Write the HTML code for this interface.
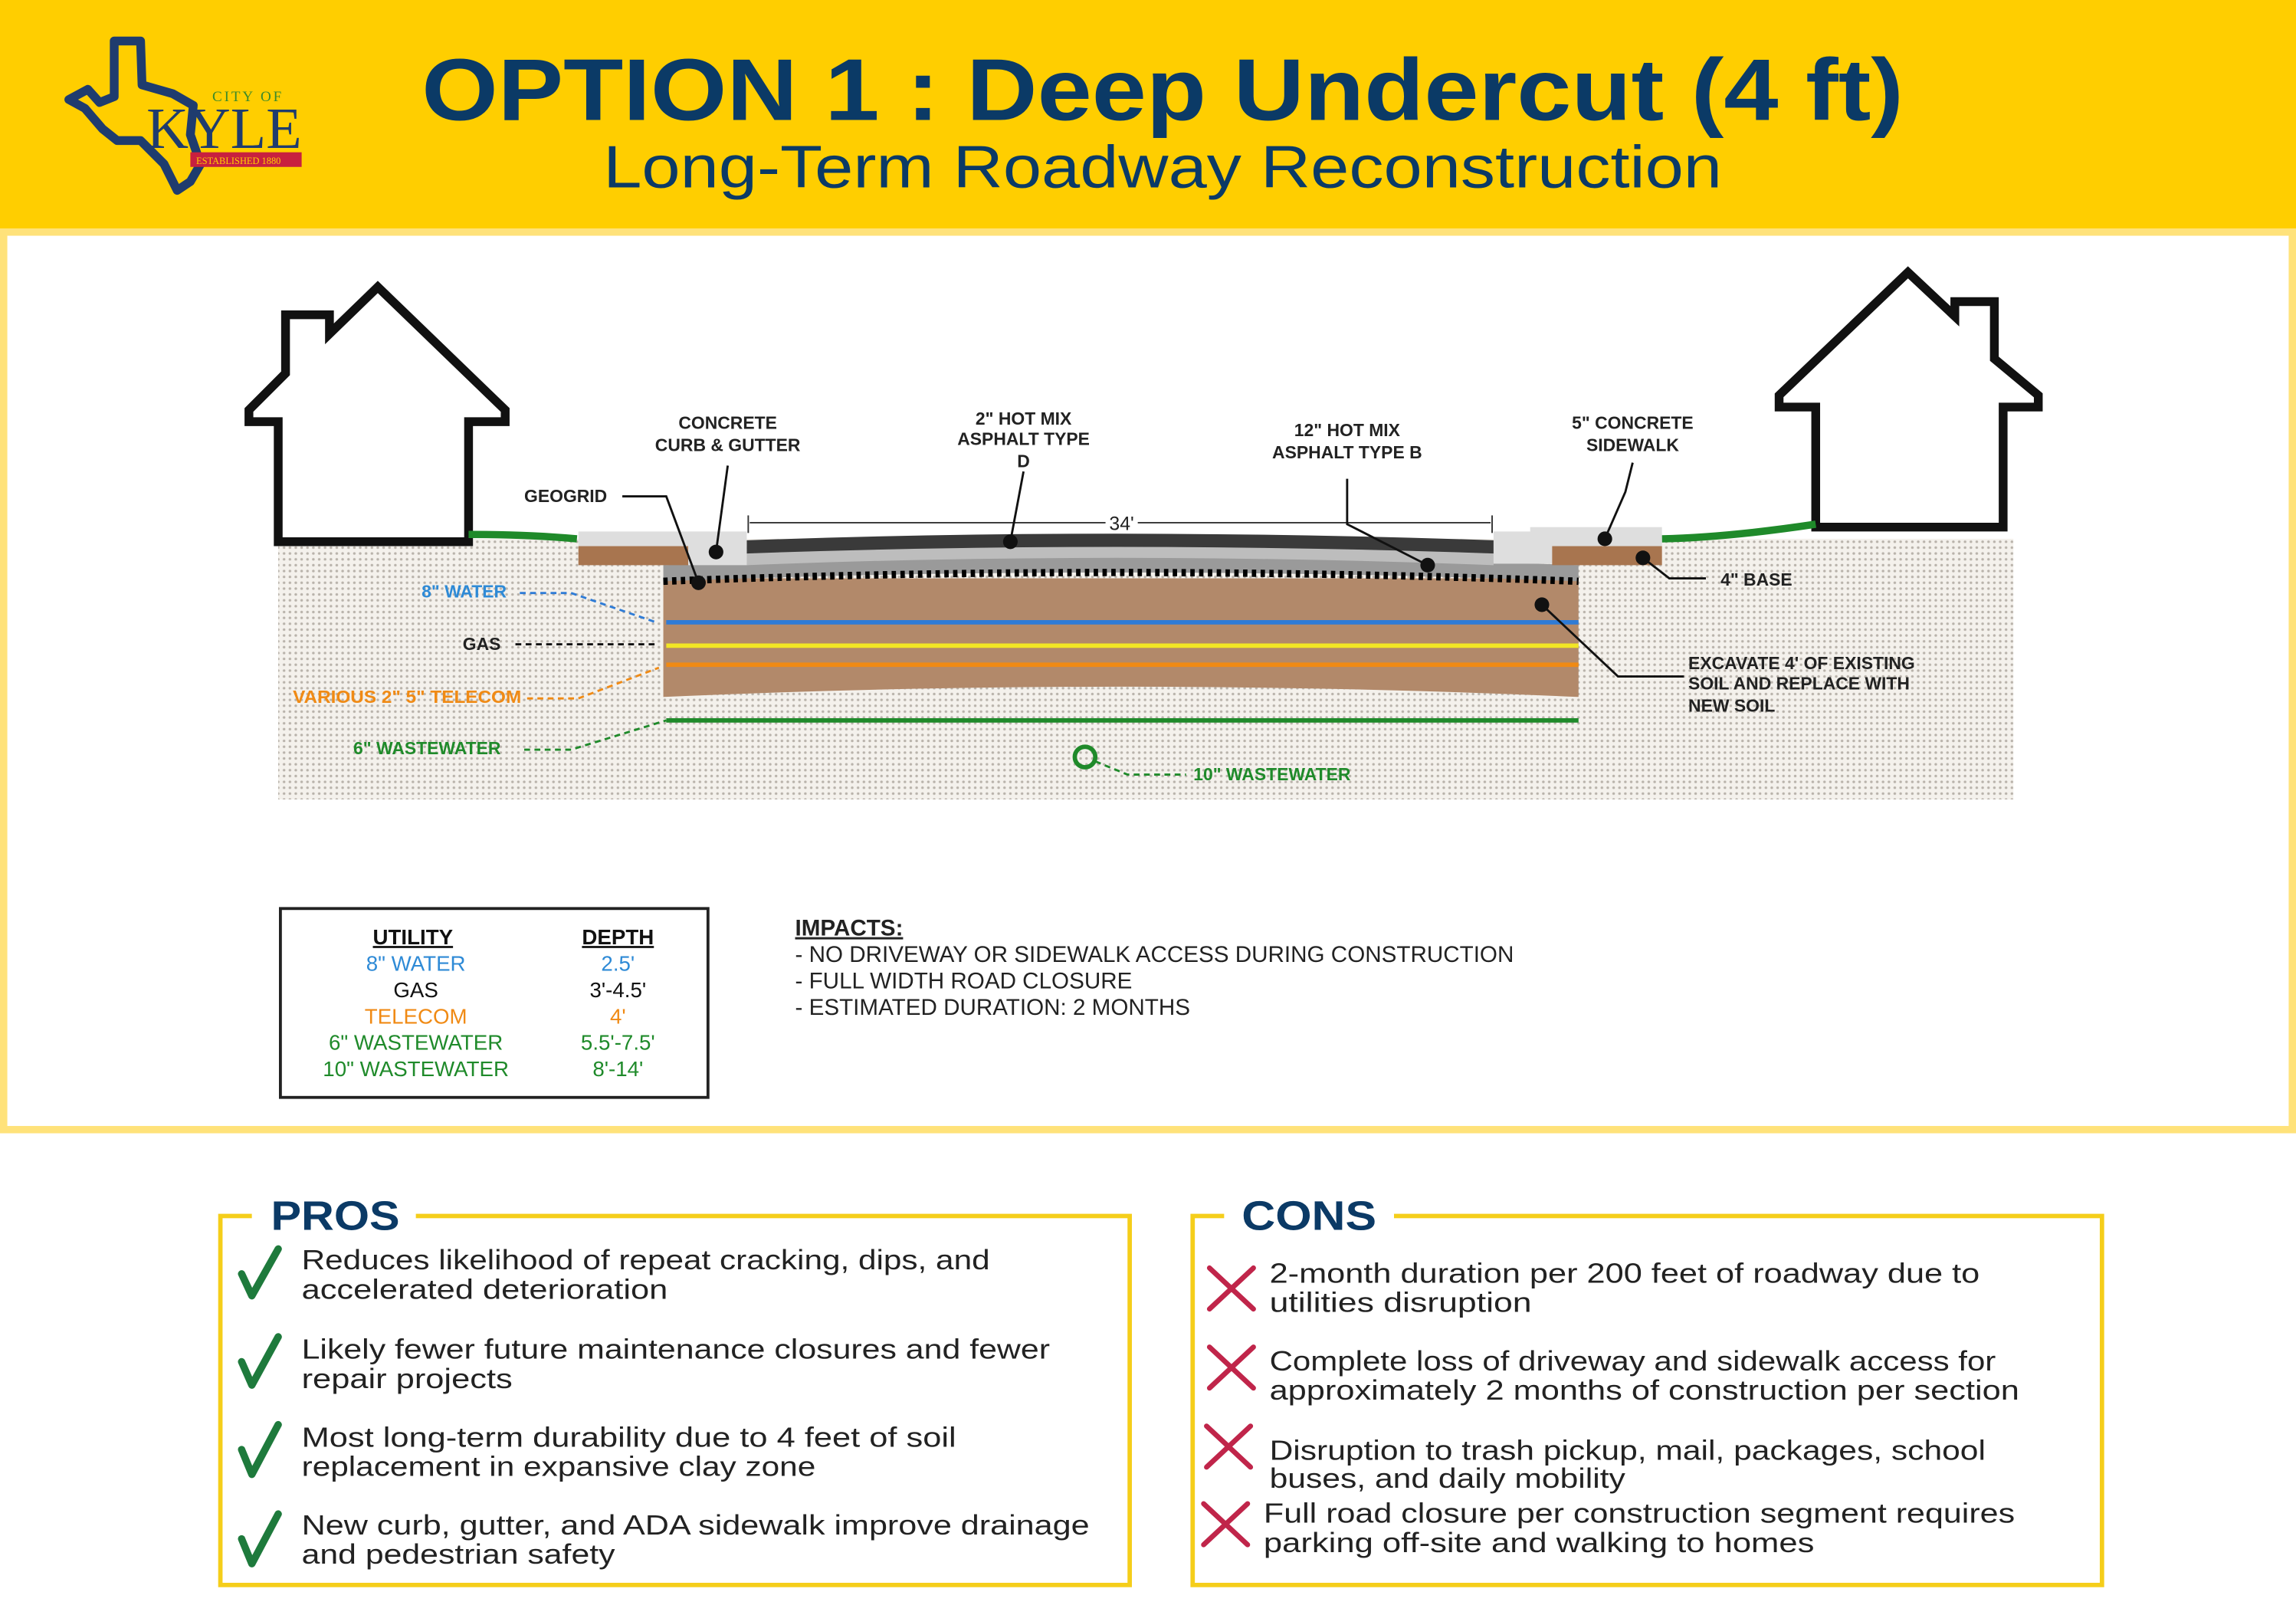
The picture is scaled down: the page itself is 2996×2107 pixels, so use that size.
<!DOCTYPE html>
<html><head><meta charset="utf-8"><style>
html,body{margin:0;padding:0;background:#fff}
svg{display:block}
text{font-family:"Liberation Sans",sans-serif}
.serif{font-family:"Liberation Serif",serif}
</style></head><body>
<svg width="2996" height="2107" viewBox="0 0 1568 1103" preserveAspectRatio="none" xmlns="http://www.w3.org/2000/svg">
<defs>
<pattern id="dots" width="4" height="4" patternUnits="userSpaceOnUse"><rect width="4" height="4" fill="#f4f1ec"/><circle cx="2" cy="2" r="0.9" fill="#b9b3ab"/></pattern>
</defs>
<rect width="1568" height="1103" fill="#fff"/>
<rect x="0" y="0" width="1568" height="156" fill="#FFCE00"/>
<rect x="2.5" y="158.5" width="1563" height="613" fill="#fff" stroke="#FFE27A" stroke-width="5"/>
<path d="M78,28 L96,28 L97,58 L118,64 L132,72 L130,92 L137,112 L130,124 L121,130 L112,112 L96,96 L80,96 L70,88 L58,74 L47,68 L60,61 L68,70 L78,66 Z" fill="none" stroke="#1F3C6E" stroke-width="6" stroke-linejoin="round"/>
<text x="145" y="69" font-size="10" fill="#3a8a2a" class="serif" letter-spacing="1.5">CITY OF</text>
<text x="100" y="101" font-size="40" fill="#1F3C6E" class="serif" textLength="106" lengthAdjust="spacingAndGlyphs">KYLE</text>
<rect x="130" y="104" width="76" height="10" fill="#C8203F"/>
<text x="134" y="112" font-size="6.5" fill="#FFCE00" class="serif">ESTABLISHED 1880</text>
<text x="288" y="82" font-size="60" font-weight="bold" fill="#0B3A66" textLength="1012" lengthAdjust="spacingAndGlyphs">OPTION 1 : Deep Undercut (4 ft)</text>
<text x="412" y="128" font-size="41" fill="#0B3A66" textLength="764" lengthAdjust="spacingAndGlyphs">Long-Term Roadway Reconstruction</text>

<rect x="190" y="368" width="1185" height="178" fill="url(#dots)"/>
<path d="M190,370 L190,288 L170,288 L170,280 L195,255 L195,215 L225,215 L225,228 L258,196 L345,280 L345,288 L320,288 L320,370 Z" fill="#fff" stroke="#111" stroke-width="6"/>
<path d="M1240,360 L1240,278 L1215,278 L1215,270 L1303,186 L1335,216 L1335,206 L1362,206 L1362,245 L1392,270 L1392,278 L1368,278 L1368,360 Z" fill="#fff" stroke="#111" stroke-width="6"/>
<path d="M320,365 Q360,365 394,368" stroke="#1f8a2a" stroke-width="5" fill="none"/>
<path d="M1135,368 Q1180,367 1240,358" stroke="#1f8a2a" stroke-width="5" fill="none"/>
<path d="M453,395 L1078,395 L1078,476 Q765,462 453,476 Z" fill="#B2896A"/>
<path d="M453,386 Q760,374 1078,386 L1078,397 Q760,385 453,397 Z" fill="#9a9a9a"/>
<path d="M510,378 Q760,365 1020,378 L1020,386 Q760,376 510,386 Z" fill="#bdbdbd"/>
<path d="M510,369 Q760,360 1020,369 L1020,378 Q760,369 510,378 Z" fill="#3a3a3a"/>
<rect x="395" y="373" width="75" height="13" fill="#A8754F"/>
<rect x="395" y="363" width="90" height="10" fill="#dedede"/>
<rect x="470" y="363" width="40" height="23" fill="#dedede"/>
<rect x="1020" y="363" width="40" height="22" fill="#dedede"/>
<rect x="1045" y="360" width="90" height="13" fill="#dedede"/>
<rect x="1060" y="373" width="75" height="13" fill="#A8754F"/>
<path d="M453,397 Q760,385 1078,397" stroke="#000" stroke-width="5" fill="none" stroke-dasharray="3,3"/>
<line x1="455" y1="425" x2="1078" y2="425" stroke="#2e7bd6" stroke-width="3"/>
<line x1="455" y1="441" x2="1078" y2="441" stroke="#f2e625" stroke-width="3"/>
<line x1="455" y1="454" x2="1078" y2="454" stroke="#f08a14" stroke-width="3"/>
<line x1="455" y1="492" x2="1078" y2="492" stroke="#1f8a2a" stroke-width="3"/>
<circle cx="741" cy="517" r="7" fill="none" stroke="#1f8a2a" stroke-width="3"/>
<line x1="512" y1="357" x2="1018" y2="357" stroke="#333" stroke-width="1"/>
<line x1="511" y1="352" x2="511" y2="364" stroke="#333"/><line x1="1019" y1="352" x2="1019" y2="364" stroke="#333"/>
<rect x="755" y="350" width="22" height="14" fill="#fff"/>
<text x="766" y="362" text-anchor="middle" font-size="13" fill="#222">34'</text>
<g stroke="#111" stroke-width="1.5" fill="none">
<path d="M497,318 L489,377"/><path d="M699,322 L690,370"/><path d="M920,327 L920,358 L975,386"/><path d="M1115,316 L1110,336 L1096,368"/>
<path d="M425,339 L455,339 L477,398"/><path d="M1122,381 L1140,395 L1165,395"/><path d="M1053,413 L1105,462 L1150,462"/>
</g>
<g fill="#111"><circle cx="489" cy="377" r="5"/><circle cx="690" cy="370" r="5"/><circle cx="975" cy="386" r="5"/><circle cx="1096" cy="368" r="5"/><circle cx="477" cy="398" r="5"/><circle cx="1122" cy="381" r="5"/><circle cx="1053" cy="413" r="5"/></g>
<g fill="none" stroke-width="1.5" stroke-dasharray="4,3">
<path d="M355,405 L390,405 L448,425" stroke="#2e7bd6"/>
<path d="M352,440 L450,440" stroke="#111"/>
<path d="M360,477 L395,477 L450,456" stroke="#f08a14"/>
<path d="M358,512 L390,512 L455,492" stroke="#1f8a2a"/>
<path d="M748,520 L770,529 L810,529" stroke="#1f8a2a"/>
</g>
<g font-size="12" font-weight="bold" fill="#222" text-anchor="middle">
<text x="497" y="293">CONCRETE</text><text x="497" y="308">CURB &amp; GUTTER</text>
<text x="699" y="290">2" HOT MIX</text><text x="699" y="304">ASPHALT TYPE</text><text x="699" y="319">D</text>
<text x="920" y="298">12" HOT MIX</text><text x="920" y="313">ASPHALT TYPE B</text>
<text x="1115" y="293">5" CONCRETE</text><text x="1115" y="308">SIDEWALK</text>
</g>
<g font-size="12" font-weight="bold">
<text x="358" y="343" fill="#222">GEOGRID</text>
<text x="1175" y="400" fill="#222">4" BASE</text>
<text x="1153" y="457" fill="#222">EXCAVATE 4' OF EXISTING</text>
<text x="1153" y="471" fill="#222">SOIL AND REPLACE WITH</text>
<text x="1153" y="486" fill="#222">NEW SOIL</text>
<text x="346" y="408" text-anchor="end" fill="#2e8ad6">8" WATER</text>
<text x="342" y="444" text-anchor="end" fill="#222">GAS</text>
<text x="200" y="480" fill="#f08a14" textLength="156" lengthAdjust="spacingAndGlyphs">VARIOUS 2" 5" TELECOM</text>
<text x="342" y="515" text-anchor="end" fill="#1f8a2a">6" WASTEWATER</text>
<text x="815" y="533" fill="#1f8a2a">10" WASTEWATER</text>
</g>
<rect x="191.5" y="620.5" width="292" height="129" fill="#fff" stroke="#222" stroke-width="2"/>
<g font-size="14.5" text-anchor="middle">
<text x="282" y="645" font-weight="bold" fill="#111" text-decoration="underline">UTILITY</text>
<text x="422" y="645" font-weight="bold" fill="#111" text-decoration="underline">DEPTH</text>
<text x="284" y="663" fill="#2e8ad6">8" WATER</text><text x="422" y="663" fill="#2e8ad6">2.5'</text>
<text x="284" y="681" fill="#111">GAS</text><text x="422" y="681" fill="#111">3'-4.5'</text>
<text x="284" y="699" fill="#f08a14">TELECOM</text><text x="422" y="699" fill="#f08a14">4'</text>
<text x="284" y="717" fill="#1f8a2a">6" WASTEWATER</text><text x="422" y="717" fill="#1f8a2a">5.5'-7.5'</text>
<text x="284" y="735" fill="#1f8a2a">10" WASTEWATER</text><text x="422" y="735" fill="#1f8a2a">8'-14'</text>
</g>
<g font-size="15.5" fill="#222">
<text x="543" y="639" font-weight="bold" text-decoration="underline">IMPACTS:</text>
<text x="543" y="657">- NO DRIVEWAY OR SIDEWALK ACCESS DURING CONSTRUCTION</text>
<text x="543" y="675">- FULL WIDTH ROAD CLOSURE</text>
<text x="543" y="693">- ESTIMATED DURATION: 2 MONTHS</text>
</g>
<rect x="150.5" y="830.5" width="621" height="252" fill="none" stroke="#F5CE1A" stroke-width="3"/>
<rect x="814.5" y="830.5" width="621" height="252" fill="none" stroke="#F5CE1A" stroke-width="3"/>
<rect x="172" y="815" width="112" height="30" fill="#fff"/>
<rect x="836" y="815" width="116" height="30" fill="#fff"/>
<text x="185" y="840" font-size="28" font-weight="bold" fill="#0B3A66" textLength="88" lengthAdjust="spacingAndGlyphs">PROS</text>
<text x="848" y="840" font-size="28" font-weight="bold" fill="#0B3A66" textLength="92" lengthAdjust="spacingAndGlyphs">CONS</text>
<g fill="none" stroke="#1E7A3C" stroke-width="5" stroke-linecap="round" stroke-linejoin="round">
<path d="M165,870 L172,885 L190,853"/><path d="M165,930 L172,946 L190,913"/><path d="M165,990 L172,1007 L190,973"/><path d="M165,1051 L172,1068 L190,1034"/>
</g>
<g font-size="19" fill="#222">
<text x="206" y="867" textLength="470" lengthAdjust="spacingAndGlyphs">Reduces likelihood of repeat cracking, dips, and</text><text x="206" y="887" textLength="250" lengthAdjust="spacingAndGlyphs">accelerated deterioration</text>
<text x="206" y="928" textLength="511" lengthAdjust="spacingAndGlyphs">Likely fewer future maintenance closures and fewer</text><text x="206" y="948" textLength="144" lengthAdjust="spacingAndGlyphs">repair projects</text>
<text x="206" y="988" textLength="447" lengthAdjust="spacingAndGlyphs">Most long-term durability due to 4 feet of soil</text><text x="206" y="1008" textLength="351" lengthAdjust="spacingAndGlyphs">replacement in expansive clay zone</text>
<text x="206" y="1048" textLength="538" lengthAdjust="spacingAndGlyphs">New curb, gutter, and ADA sidewalk improve drainage</text><text x="206" y="1068" textLength="214" lengthAdjust="spacingAndGlyphs">and pedestrian safety</text>
</g>
<g stroke="#C0254A" stroke-width="3.5" stroke-linecap="round">
<path d="M826,866 L856,894 M856,866 L826,894"/><path d="M826,920 L856,948 M856,920 L826,948"/><path d="M824,974 L854,1002 M854,974 L824,1002"/><path d="M822,1027 L852,1055 M852,1027 L822,1055"/>
</g>
<g font-size="19" fill="#222">
<text x="867" y="876" textLength="485" lengthAdjust="spacingAndGlyphs">2-month duration per 200 feet of roadway due to</text><text x="867" y="896" textLength="179" lengthAdjust="spacingAndGlyphs">utilities disruption</text>
<text x="867" y="936" textLength="496" lengthAdjust="spacingAndGlyphs">Complete loss of driveway and sidewalk access for</text><text x="867" y="956" textLength="512" lengthAdjust="spacingAndGlyphs">approximately 2 months of construction per section</text>
<text x="867" y="997" textLength="489" lengthAdjust="spacingAndGlyphs">Disruption to trash pickup, mail, packages, school</text><text x="867" y="1016" textLength="243" lengthAdjust="spacingAndGlyphs">buses, and daily mobility</text>
<text x="863" y="1040" textLength="513" lengthAdjust="spacingAndGlyphs">Full road closure per construction segment requires</text><text x="863" y="1060" textLength="376" lengthAdjust="spacingAndGlyphs">parking off-site and walking to homes</text>
</g>
</svg>
</body></html>
